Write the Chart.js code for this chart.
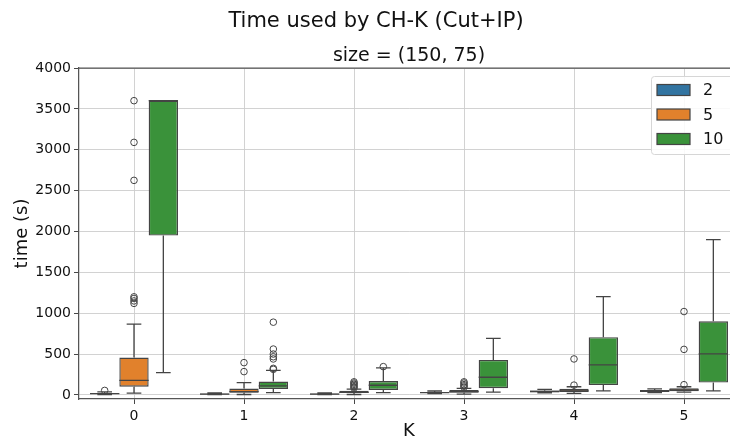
<!DOCTYPE html>
<html>
<head>
<meta charset="utf-8">
<script src="https://cdn.jsdelivr.net/npm/chart.js@4"></script>
<style>
  html, body { margin: 0; padding: 0; overflow: hidden; background: #fff; }
  canvas { display: block; }
</style>
</head>
<body>
<canvas id="c" width="740" height="440"></canvas>
<script>
// ---- data ----
const categories = ['0', '1', '2', '3', '4', '5'];
const hueLabels = ['2', '5', '10'];
const yTicks = [0, 500, 1000, 1500, 2000, 2500, 3000, 3500, 4000];

// hue "2"
const lo2  = [3, 3, 3, 15, 25, 28];
const q1_2 = [10, 6, 6, 22, 33, 36];
const med2 = [16, 10, 10, 28, 42, 48];
const q3_2 = [24, 16, 16, 36, 55, 60];
const hi2  = [38, 25, 25, 48, 68, 75];
const fl2  = [[55], [], [], [], [], []];

// hue "5"
const lo5  = [22, 5, 5, 10, 20, 35];
const q1_5 = [100, 25, 22, 28, 37, 45];
const med5 = [178, 40, 32, 40, 50, 60];
const q3_5 = [458, 77, 50, 60, 75, 82];
const hi5  = [865, 150, 70, 80, 100, 100];
const fl5  = [[1120, 1150, 1180, 1200, 2625, 3090, 3600], [285, 395], [85, 100, 115, 130, 145, 160], [95, 110, 125, 145, 160], [120, 440], [125, 557, 1020]];

// hue "10"
const lo10  = [272, 28, 28, 33, 49, 49];
const q1_10 = [1950, 73, 61, 82, 120, 151];
const med10 = [3600, 110, 118, 216, 367, 502];
const q3_10 = [3600, 163, 170, 428, 707, 901];
const hi10  = [3600, 300, 330, 693, 1203, 1900];
const fl10  = [[], [313, 325, 440, 467, 500, 561, 890], [346], [], [], []];

const colors = ['#3274a1', '#e1812c', '#3a923a'];
const lineCol = '#444444';

function mkDataset(label, color, lo, q1, med, q3, hi, fl) {
  return {
    label: label,
    data: q1.map((v, i) => [v, q3[i]]),
    backgroundColor: color,
    borderColor: lineCol,
    borderWidth: 1.4,
    borderSkipped: false,
    categoryPercentage: 0.8,
    barPercentage: 1.0,
    stats: { lo: lo, med: med, hi: hi, fl: fl }
  };
}

const boxPlugin = {
  id: 'boxparts',
  afterDatasetsDraw(chart) {
    const ctx = chart.ctx, ys = chart.scales.y, ca = chart.chartArea;
    ctx.save();
    ctx.beginPath();
    ctx.rect(ca.left, ca.top, ca.right - ca.left, ca.bottom - ca.top);
    ctx.clip();
    chart.data.datasets.forEach((ds, di) => {
      const meta = chart.getDatasetMeta(di);
      const st = ds.stats;
      meta.data.forEach((bar, i) => {
        const cx = bar.x, w = bar.width;
        const yq1 = ys.getPixelForValue(ds.data[i][0]);
        const yq3 = ys.getPixelForValue(ds.data[i][1]);
        const ylo = ys.getPixelForValue(st.lo[i]);
        const yhi = ys.getPixelForValue(st.hi[i]);
        const ym = ys.getPixelForValue(st.med[i]);
        ctx.strokeStyle = lineCol;
        ctx.lineWidth = 1.3;
        ctx.beginPath();
        if (st.hi[i] > ds.data[i][1]) {
          ctx.moveTo(cx, yq3); ctx.lineTo(cx, yhi);
          ctx.moveTo(cx - w / 4, yhi); ctx.lineTo(cx + w / 4, yhi);
        }
        if (st.lo[i] < ds.data[i][0]) {
          ctx.moveTo(cx, yq1); ctx.lineTo(cx, ylo);
          ctx.moveTo(cx - w / 4, ylo); ctx.lineTo(cx + w / 4, ylo);
        }
        ctx.moveTo(cx - w / 2, ym); ctx.lineTo(cx + w / 2, ym);
        ctx.stroke();
        ctx.lineWidth = 1;
        st.fl[i].forEach(v => {
          ctx.beginPath();
          ctx.arc(cx, ys.getPixelForValue(v), 3.3, 0, Math.PI * 2);
          ctx.stroke();
        });
      });
    });
    ctx.restore();
  }
};

const decorPlugin = {
  id: 'decor',
  afterDraw(chart) {
    const ctx = chart.ctx, ca = chart.chartArea;
    ctx.save();
    ctx.strokeStyle = '#555';
    ctx.lineWidth = 1.25;
    ctx.beginPath();
    ctx.moveTo(ca.left, ca.top); ctx.lineTo(ca.right, ca.top);
    ctx.stroke();
    ctx.fillStyle = '#111';
    ctx.textAlign = 'center';
    ctx.textBaseline = 'middle';
    ctx.font = '21px "DejaVu Sans"';
    ctx.fillText('Time used by CH-K (Cut+IP)', 376, 22);
    ctx.font = '19px "DejaVu Sans"';
    ctx.fillText('size = (150, 75)', (ca.left + ca.right) / 2, 56);
    const lx = 651, ly = 76, lw = 82, lh = 78;
    ctx.fillStyle = 'rgba(255,255,255,0.85)';
    ctx.strokeStyle = '#d6d6d6';
    ctx.lineWidth = 1;
    ctx.beginPath();
    ctx.roundRect(lx + 0.5, ly + 0.5, lw, lh, 3);
    ctx.fill();
    ctx.stroke();
    chart.data.datasets.forEach((ds, i) => {
      const cy = 90 + i * 24.5;
      ctx.fillStyle = ds.backgroundColor;
      ctx.fillRect(657, cy - 5.5, 33, 11);
      ctx.strokeStyle = lineCol;
      ctx.lineWidth = 1.2;
      ctx.strokeRect(657, cy - 5.5, 33, 11);
      ctx.fillStyle = '#111';
      ctx.textAlign = 'left';
      ctx.font = '16px "DejaVu Sans"';
      ctx.fillText(ds.label, 703, cy + 1);
    });
    ctx.restore();
  }
};

const gridCol = '#cdcdcd';
new Chart(document.getElementById('c'), {
  type: 'bar',
  data: {
    labels: categories,
    datasets: [
      mkDataset(hueLabels[0], colors[0], lo2, q1_2, med2, q3_2, hi2, fl2),
      mkDataset(hueLabels[1], colors[1], lo5, q1_5, med5, q3_5, hi5, fl5),
      mkDataset(hueLabels[2], colors[2], lo10, q1_10, med10, q3_10, hi10, fl10)
    ]
  },
  options: {
    responsive: false,
    devicePixelRatio: 1,
    animation: false,
    layout: { padding: { top: 68, left: 0, right: 1, bottom: 0 } },
    plugins: { legend: { display: false }, tooltip: { enabled: false }, title: { display: false } },
    scales: {
      x: {
        offset: true,
        grid: { offset: false, color: gridCol, lineWidth: 0.9, tickLength: 5, tickColor: '#333', drawTicks: true },
        border: { color: '#555', width: 1.25 },
        ticks: { color: '#111', font: { family: 'DejaVu Sans', size: 14 }, padding: 4, maxRotation: 0 },
        title: { display: true, text: 'K', color: '#111', font: { family: 'DejaVu Sans', size: 18, lineHeight: 1 }, padding: { top: 0, bottom: 0 } },
        afterFit(s) { s.height = 41; }
      },
      y: {
        min: -50,
        max: 4000,
        afterBuildTicks(s) { s.ticks = yTicks.map(v => ({ value: v })); },
        grid: { color: gridCol, lineWidth: 0.9, tickLength: 5, tickColor: '#333' },
        border: { color: '#555', width: 1.25 },
        ticks: { color: '#111', font: { family: 'DejaVu Sans', size: 14 }, padding: 3, callback: (v) => String(v) },
        title: { display: true, text: 'time (s)', color: '#111', font: { family: 'DejaVu Sans', size: 18, lineHeight: 1 }, padding: { top: 13, bottom: 0 } },
        afterFit(s) { s.width = 79; }
      }
    }
  },
  plugins: [boxPlugin, decorPlugin]
});
</script>
</body>
</html>
